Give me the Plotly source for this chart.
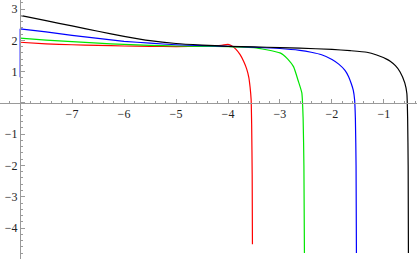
import plotly.graph_objects as go

# ---- data ----
black_x = [-8.0, -7.5, -7.0, -6.5, -6.0, -5.5, -5.0, -4.5, -4.0, -3.5, -3.0, -2.62, -2.0, -1.65, -1.33,
           -1.14, -0.95, -0.88, -0.78, -0.69, -0.6, -0.56, -0.545, -0.535, -0.53]
black_y = [2.80, 2.63, 2.46, 2.29, 2.13, 1.99, 1.90, 1.85, 1.81, 1.79, 1.77, 1.75, 1.71, 1.67, 1.62,
           1.53, 1.40, 1.33, 1.19, 0.99, 0.64, 0.30, -0.5, -2.0, -4.8]

blue_x = [-8.0, -7.5, -7.0, -6.5, -6.0, -5.5, -5.0, -4.5, -4.0, -3.5, -3.0, -2.62, -2.4, -2.2, -2.0,
          -1.87, -1.75, -1.68, -1.63, -1.59, -1.565, -1.55, -1.537, -1.53]
blue_y = [2.37, 2.27, 2.16, 2.06, 1.97, 1.91, 1.86, 1.83, 1.81, 1.78, 1.74, 1.68, 1.62, 1.54, 1.39,
          1.24, 1.04, 0.84, 0.62, 0.40, 0.10, -0.5, -2.0, -4.8]

green_x = [-8.0, -7.5, -7.0, -6.5, -6.0, -5.5, -5.0, -4.5, -4.0, -3.5, -3.26, -3.0, -2.94, -2.85,
           -2.74, -2.65, -2.58, -2.555, -2.54, -2.53]
green_y = [2.07, 2.01, 1.96, 1.91, 1.87, 1.84, 1.82, 1.81, 1.80, 1.77, 1.70, 1.60, 1.54, 1.40,
           1.16, 0.71, 0.32, -0.5, -2.0, -4.8]

red_x = [-8.0, -7.5, -7.0, -6.5, -6.0, -5.5, -5.0, -4.5, -4.2, -4.1, -4.0, -3.93, -3.85, -3.77, -3.70,
         -3.64, -3.60, -3.575, -3.555, -3.545, -3.535, -3.53]
red_y = [1.94, 1.89, 1.86, 1.84, 1.82, 1.81, 1.80, 1.81, 1.83, 1.85, 1.87, 1.83, 1.72, 1.55, 1.33,
         1.08, 0.82, 0.50, 0.10, -0.7, -2.3, -4.52]

edge_x = [-8.0, -8.0]
edge_y = [2.37, 0.82]

x_ticks = [-8, -7, -6, -5, -4, -3, -2, -1]
x_labels = ["", "\u22127", "\u22126", "\u22125", "\u22124", "\u22123", "\u22122", "\u22121"]
y_ticks = [-4, -3, -2, -1, 0, 1, 2, 3]
y_labels = ["\u22124", "\u22123", "\u22122", "\u22121", "", "1", "2", "3"]

x_range = [-8.385, -0.365]
y_range = [-4.99, 3.29]

fig = go.Figure()
for xs, ys, col in [(red_x, red_y, "#ff0000"), (green_x, green_y, "#00e600"),
                    (blue_x, blue_y, "#0000ff"), (black_x, black_y, "#000000")]:
    fig.add_trace(go.Scatter(x=xs, y=ys, mode="lines",
                             line=dict(color=col, width=1.2, shape="spline", smoothing=0.5),
                             showlegend=False, hoverinfo="skip"))
fig.add_trace(go.Scatter(x=edge_x, y=edge_y, mode="lines",
                         line=dict(color="rgba(60,60,255,0.65)", width=1.6),
                         showlegend=False, hoverinfo="skip"))

axis_col = "#9a9a9a"
font = dict(family="Liberation Serif", size=12, color="#222222")

fig.update_layout(
    width=417, height=259,
    margin=dict(l=0, r=0, t=0, b=0),
    paper_bgcolor="white", plot_bgcolor="white",
    xaxis=dict(range=x_range, showgrid=False, zeroline=False, showline=True,
               linecolor=axis_col, linewidth=1,
               anchor="free", position=(0 - y_range[0]) / (y_range[1] - y_range[0]),
               tickmode="array", tickvals=x_ticks, ticktext=x_labels,
               ticks="inside", ticklen=4, tickcolor=axis_col, tickwidth=1,
               minor=dict(tickmode="linear", tick0=0, dtick=0.2, ticks="inside",
                          ticklen=2, tickcolor=axis_col, tickwidth=1, showgrid=False),
               tickfont=font, automargin=False),
    yaxis=dict(range=y_range, showgrid=False, zeroline=False, showline=True,
               linecolor=axis_col, linewidth=1,
               anchor="free", position=(-8 - x_range[0]) / (x_range[1] - x_range[0]),
               tickmode="array", tickvals=y_ticks, ticktext=y_labels,
               ticks="inside", ticklen=4, tickcolor=axis_col, tickwidth=1,
               minor=dict(tickmode="linear", tick0=0, dtick=0.2, ticks="inside",
                          ticklen=2, tickcolor=axis_col, tickwidth=1, showgrid=False),
               tickfont=font, automargin=False),
)

fig.write_html("out.html",
               config={"displayModeBar": False, "staticPlot": True},
               post_script="document.body.style.margin='0';document.body.style.padding='0';"
                           "document.body.style.overflow='hidden';")
